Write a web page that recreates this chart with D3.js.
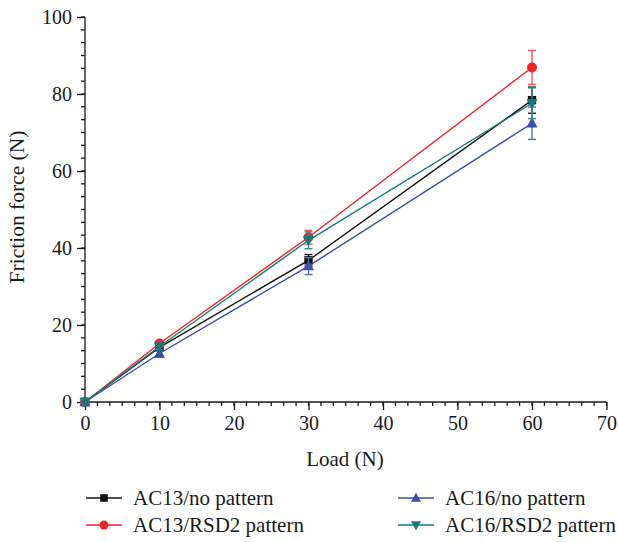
<!DOCTYPE html>
<html><head><meta charset="utf-8">
<script src="https://cdn.jsdelivr.net/npm/d3@7"></script>
<style>body{margin:0;background:#fff;} svg{display:block;} text{font-family:"Liberation Serif","Times New Roman",serif;fill:#1a1a1a;}</style>
</head><body><svg id="c" width="618" height="542"></svg>
<script>
const loads = [0, 10, 30, 60];
const seriesNames = ["AC13/no pattern", "AC13/RSD2 pattern", "AC16/no pattern", "AC16/RSD2 pattern"];
const ac13No = [0, 14.2, 36.8, 78.4];
const ac13NoErr = [0.3, 0.8, 1.5, 3.4];
const ac13Rsd = [0, 15.2, 42.8, 86.9];
const ac13RsdErr = [0.3, 0.6, 1.8, 4.4];
const ac16No = [0, 12.6, 35.3, 72.4];
const ac16NoErr = [0.3, 1.0, 2.2, 4.2];
const ac16Rsd = [0, 14.4, 42.0, 77.6];
const ac16RsdErr = [0.3, 0.8, 2.2, 4.0];
const xTicks = [0, 10, 20, 30, 40, 50, 60, 70];
const yTicks = [0, 20, 40, 60, 80, 100];

const styles = [
  {color:"#111111", err:"#222222", shape:"square"},
  {color:"#ee2428", err:"#f0585b", shape:"circle"},
  {color:"#3a4fa6", err:"#5a6bb6", shape:"up"},
  {color:"#157a78", err:"#2f8a88", shape:"down"}
];
const series = [
  {name:seriesNames[0], v:ac13No, e:ac13NoErr},
  {name:seriesNames[1], v:ac13Rsd, e:ac13RsdErr},
  {name:seriesNames[2], v:ac16No, e:ac16NoErr},
  {name:seriesNames[3], v:ac16Rsd, e:ac16RsdErr}
];

const svg = d3.select("#c");
const x = d3.scaleLinear().domain([0, 70]).range([85, 606.5]);
const y = d3.scaleLinear().domain([0, 100]).range([402, 17]);

const minorX = d3.range(0, 70.001, 10/6);
const minorY = d3.range(0, 100.001, 20/6);
const axes = svg.append("g").attr("stroke","#1a1a1a").attr("stroke-width",1.3);
axes.selectAll(".mx").data(minorX).join("line")
  .attr("x1", d=>x(d)).attr("x2", d=>x(d)).attr("y1", 402).attr("y2", 406);
axes.selectAll(".my").data(minorY).join("line")
  .attr("y1", d=>y(d)).attr("y2", d=>y(d)).attr("x1", 85).attr("x2", 81);

const xAxis = svg.append("g").attr("transform","translate(0,402)")
  .call(d3.axisBottom(x).tickValues(xTicks).tickSize(8).tickPadding(6).tickFormat(d3.format("d")));
const yAxis = svg.append("g").attr("transform","translate(85,0)")
  .call(d3.axisLeft(y).tickValues(yTicks).tickSize(8).tickPadding(5).tickFormat(d3.format("d")));
[xAxis, yAxis].forEach(a=>{
  a.selectAll("path,line").attr("stroke","#1a1a1a").attr("stroke-width",1.3);
  a.select(".domain").attr("d", a===xAxis ? `M${x(0)},0H${x(70)}` : `M0,${y(0)}V${y(100)}`);
  a.selectAll("text").attr("font-size",20).attr("font-family","Liberation Serif").attr("fill","#1a1a1a");
});

svg.append("text").attr("x", 345).attr("y", 466).attr("text-anchor","middle").attr("font-size",21).text("Load (N)");
svg.append("text").attr("transform","translate(24,207) rotate(-90)").attr("text-anchor","middle").attr("font-size",21.5).text("Friction force (N)");

function marker(g, shape, cx, cy, color, s){
  if(shape==="square") g.append("rect").attr("x",cx-s*0.42).attr("y",cy-s*0.42).attr("width",s*0.84).attr("height",s*0.84).attr("fill",color);
  else if(shape==="circle") g.append("circle").attr("cx",cx).attr("cy",cy).attr("r",s*0.5).attr("fill",color);
  else if(shape==="up") g.append("path").attr("d",`M${cx},${cy-s*0.6}L${cx+s*0.55},${cy+s*0.42}L${cx-s*0.55},${cy+s*0.42}Z`).attr("fill",color);
  else g.append("path").attr("d",`M${cx},${cy+s*0.6}L${cx+s*0.55},${cy-s*0.42}L${cx-s*0.55},${cy-s*0.42}Z`).attr("fill",color);
}

const line = d3.line().x(d=>x(d[0])).y(d=>y(d[1]));
series.forEach((s,i)=>{
  const st = styles[i];
  const g = svg.append("g");
  const pts = loads.map((l,j)=>[l, s.v[j]]);
  g.append("path").attr("d", line(pts)).attr("fill","none").attr("stroke",st.color).attr("stroke-width",1.4);
  loads.forEach((l,j)=>{
    const cx = x(l), t = y(s.v[j]+s.e[j]), b = y(s.v[j]-s.e[j]);
    g.append("line").attr("x1",cx).attr("x2",cx).attr("y1",t).attr("y2",b).attr("stroke",st.err).attr("stroke-width",1.4);
    [t,b].forEach(yy=>g.append("line").attr("x1",cx-4).attr("x2",cx+4).attr("y1",yy).attr("y2",yy).attr("stroke",st.err).attr("stroke-width",1.4));
  });
  loads.forEach((l,j)=>marker(g, st.shape, x(l), y(s.v[j]), st.color, 10));
});

const leg = svg.append("g");
const legPos = [[86,498],[86,525],[398,498],[398,525]];
series.forEach((s,i)=>{
  const st = styles[i];
  const [lx, ly] = legPos[i];
  leg.append("line").attr("x1",lx).attr("x2",lx+36).attr("y1",ly).attr("y2",ly).attr("stroke",st.color).attr("stroke-width",1.4);
  marker(leg, st.shape, lx+18, ly, st.color, 9);
  leg.append("text").attr("x", lx+47).attr("y", ly+7).attr("font-size",21).text(s.name);
});
</script></body></html>
